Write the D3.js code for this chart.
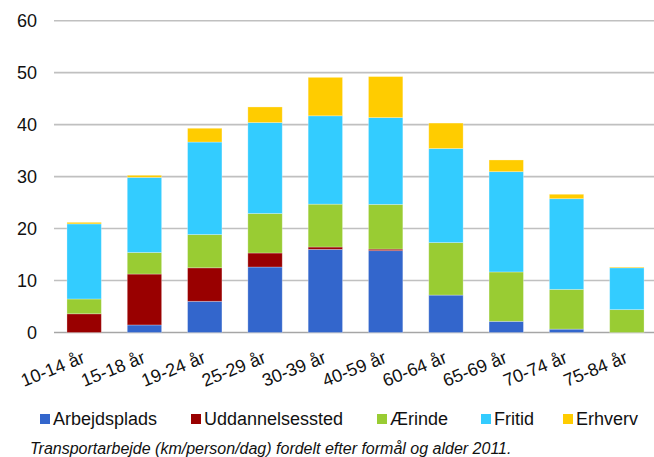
<!DOCTYPE html>
<html>
<head>
<meta charset="utf-8">
<script src="https://cdn.jsdelivr.net/npm/d3@7"></script>
<style>
  body { margin: 0; background: #fff; }
  svg { display: block; font-family: "Liberation Sans", Arial, sans-serif; }
</style>
</head>
<body>
<svg width="654" height="457"></svg>
<script>
const ages = ["10-14 år", "15-18 år", "19-24 år", "25-29 år", "30-39 år", "40-59 år", "60-64 år", "65-69 år", "70-74 år", "75-84 år"];
const seriesNames = ["Arbejdsplads", "Uddannelsessted", "Ærinde", "Fritid", "Erhverv"];
const colors = ["#3366CC", "#990000", "#99CC33", "#33CCFF", "#FFCC00"];

// km/person/dag per formål
const arbejdsplads    = [0,    1.45, 6.0,  12.6, 16.0, 15.75, 7.2,  2.15, 0.65, 0];
const uddannelse      = [3.6,  9.8,  6.45, 2.7,  0.45, 0.3,   0,    0,    0,    0];
const aerinde         = [2.85, 4.15, 6.4,  7.6,  8.25, 8.6,   10.1, 9.5,  7.65, 4.4];
const fritid          = [14.45,14.45,17.8, 17.5, 17.0, 16.7,  18.1, 19.3, 17.45,8.05];
const erhverv         = [0.3,  0.4,  2.65, 3.0,  7.4,  7.9,   4.9,  2.25, 0.85, 0.15];

const yTicks = [0, 10, 20, 30, 40, 50, 60];
const caption = "Transportarbejde (km/person/dag) fordelt efter formål og alder 2011.";

const svg = d3.select("svg");
const plotLeft = 54, plotRight = 657, plotTop = 20.7, plotBottom = 332.5;

const rows = ages.map((a, i) => ({
    age: a,
    Arbejdsplads: arbejdsplads[i],
    Uddannelsessted: uddannelse[i],
    "Ærinde": aerinde[i],
    Fritid: fritid[i],
    Erhverv: erhverv[i]
}));

const x = d3.scaleBand().domain(ages).range([plotLeft, plotRight])
    .paddingInner(0.43).paddingOuter(0.215);
const y = d3.scaleLinear().domain([0, 60]).range([plotBottom, plotTop]);
const color = d3.scaleOrdinal().domain(seriesNames).range(colors);

// gridlines
svg.append("g")
    .selectAll("line")
    .data(yTicks)
    .join("line")
    .attr("x1", plotLeft)
    .attr("x2", 654)
    .attr("y1", d => y(d))
    .attr("y2", d => y(d))
    .attr("stroke", d => d === 0 ? "#a6a6a6" : "#c0c0c0")
    .attr("stroke-width", 1.6);

// y axis labels
const yAxis = svg.append("g")
    .attr("transform", `translate(${plotLeft},0)`)
    .call(d3.axisLeft(y).tickValues(yTicks).tickSize(0).tickPadding(17));
yAxis.select(".domain").remove();
yAxis.selectAll("text")
    .attr("font-size", 18)
    .attr("font-family", "Liberation Sans, Arial, sans-serif")
    .attr("fill", "#111");

// stacked bars
const stacked = d3.stack().keys(seriesNames)(rows);
svg.append("g")
    .selectAll("g")
    .data(stacked)
    .join("g")
    .attr("fill", d => color(d.key))
    .selectAll("rect")
    .data(d => d.filter(s => s[1] - s[0] > 0))
    .join("rect")
    .attr("x", d => x(d.data.age))
    .attr("y", d => y(d[1]))
    .attr("width", x.bandwidth())
    .attr("height", d => y(d[0]) - y(d[1]))
    .attr("stroke", "rgba(255,255,255,0.35)")
    .attr("stroke-width", 0.8);

// x labels
svg.append("g")
    .selectAll("text")
    .data(ages)
    .join("text")
    .attr("transform", d => `translate(${x(d) + x.bandwidth() / 2 + 2},362) rotate(-22)`)
    .attr("text-anchor", "end")
    .attr("font-size", 18)
    .attr("fill", "#111")
    .text(d => d);

// legend
const legendX = [40, 191, 377, 481, 563];
const legend = svg.append("g")
    .selectAll("g")
    .data(seriesNames)
    .join("g")
    .attr("transform", (d, i) => `translate(${legendX[i]},414)`);
legend.append("rect")
    .attr("width", 10).attr("height", 10)
    .attr("fill", d => color(d));
legend.append("text")
    .attr("x", 13).attr("y", 11)
    .attr("font-size", 18)
    .attr("fill", "#111")
    .text(d => d);

// caption
svg.append("text")
    .attr("x", 30).attr("y", 453.5)
    .attr("font-size", 16)
    .attr("font-style", "italic")
    .attr("fill", "#111")
    .text(caption);
</script>
</body>
</html>
